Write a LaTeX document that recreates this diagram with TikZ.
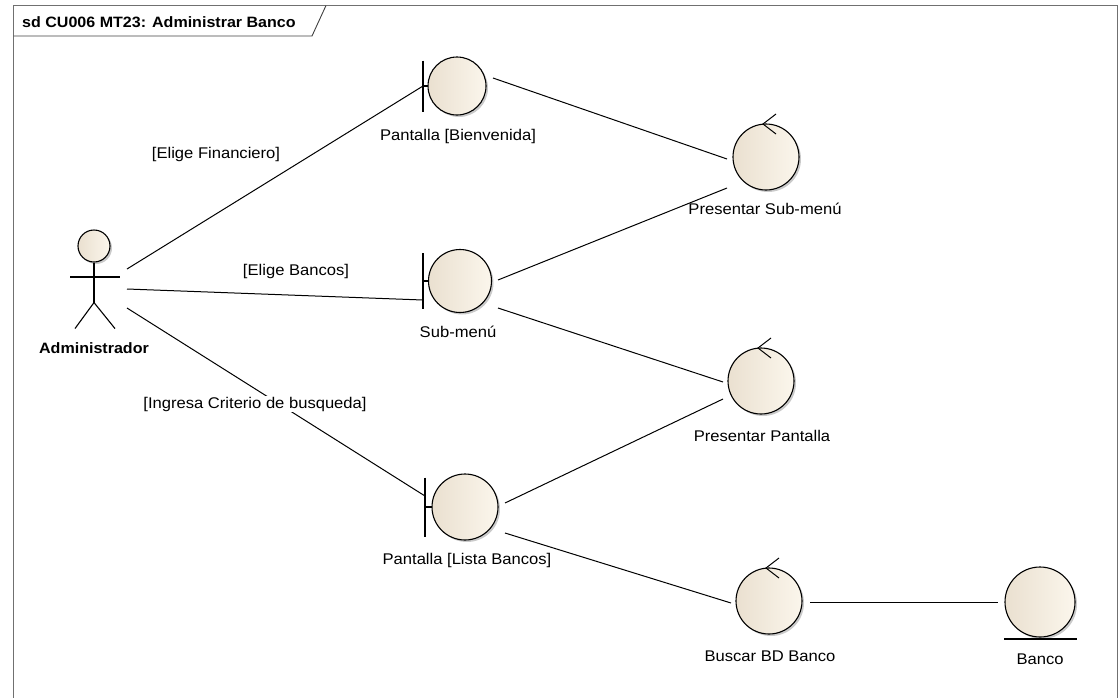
\documentclass[tikz,border=0pt]{standalone}
\usepackage{fontspec}
\setmainfont{Liberation Sans}[FakeStretch=1.07]
\usetikzlibrary{calc,shadows}
\definecolor{beigeL}{HTML}{EAE0D0}
\definecolor{beigeR}{HTML}{FBF6EC}
\definecolor{framegray}{HTML}{707070}
\begin{document}
\begin{tikzpicture}[x=1pt,y=-1pt,font=\fontsize{15.5}{18}\selectfont,
  elem/.style={circle,draw=black,line width=1.1pt,left color=beigeL,right color=beigeR,inner sep=0pt,
    drop shadow={shadow xshift=2pt,shadow yshift=-2pt,fill=black!35,opacity=0.6}},
  conn/.style={draw=black,line width=1pt},
  stick/.style={draw=black,line width=1.1pt},
  lbl/.style={anchor=base,inner sep=0pt},
  elbl/.style={anchor=base,inner sep=1pt,fill=white}]
\useasboundingbox (0,0) rectangle (1119,697);
% frame
\draw[framegray,line width=1.6pt] (13.5,705) -- (13.5,5.5) -- (1117.5,5.5) -- (1117.5,705);
\draw[black!75,line width=0.9pt] (13.5,36) -- (312,36) -- (326,5.5);
\node[anchor=base west,inner sep=0pt,font=\fontsize{15}{18}\selectfont\bfseries] (title) at (22,27) {sd CU006 MT23: Administrar Banco};
% elements
\node[elem,minimum size=58pt] (bien) at (457,86) {};
\node[elem,minimum size=63pt] (sub) at (460,281) {};
\node[elem,minimum size=66pt] (lista) at (465,507) {};
\node[elem,minimum size=66pt] (pressub) at (766,157) {};
\node[elem,minimum size=66pt] (prespant) at (761,381) {};
\node[elem,minimum size=66pt] (buscar) at (769,601) {};
\node[elem,minimum size=70pt] (banco) at (1040,602) {};
\node[elem,minimum size=32pt] (admin) at (94,246) {};
% actor
\draw[stick] (admin.south) -- ++(0,40) coordinate (hip);
\draw[stick] ($(admin)+(-24,31)$) -- ($(admin)+(26,31)$);
\draw[stick] (hip) -- ++(-19,26);
\draw[stick] (hip) -- ++(21,26);
% boundary bars
\draw[stick] ($(bien)+(-34,-25.5)$) -- ($(bien)+(-34,25.5)$);
\draw[stick] ($(bien)+(-34,0)$) coordinate (bien-w) -- ($(bien)+(-29,0)$);
\draw[stick] ($(sub)+(-37,-28)$) -- ($(sub)+(-37,28)$);
\draw[stick] ($(sub)+(-37,0)$) -- ($(sub)+(-31.5,0)$);
\draw[stick] ($(lista)+(-40,-29.5)$) -- ($(lista)+(-40,29.5)$);
\draw[stick] ($(lista)+(-40,0)$) -- ($(lista)+(-33,0)$);
% entity underline
\draw[stick] ($(banco)+(-36,37)$) -- ($(banco)+(37,37)$);
% control arrows
\foreach \c in {pressub,prespant,buscar}{
  \draw[conn] ($(\c)+(10,-43)$) -- ($(\c)+(-3,-33)$) -- ($(\c)+(10,-23)$);
}
% ports
\coordinate (a1) at ($(admin)+(33,23)$);
\coordinate (a2) at ($(admin)+(33,43)$);
\coordinate (a3) at ($(admin)+(33,62)$);
\coordinate (sub-w) at ($(sub)+(-37,19)$);
\coordinate (lista-w) at ($(lista)+(-40,-11)$);
% connectors
\draw[conn] (a1) -- (bien-w);
\draw[conn] (a2) -- (sub-w);
\draw[conn] (a3) -- (lista-w);
\draw[conn] ($(bien)+(36,-8)$) -- ($(pressub)+(-39,2)$);
\draw[conn] ($(sub)+(38,-1)$) -- ($(pressub)+(-39,31)$);
\draw[conn] ($(sub)+(38,27)$) -- ($(prespant)+(-38,1)$);
\draw[conn] ($(lista)+(40,-4)$) -- ($(prespant)+(-38,18)$);
\draw[conn] ($(lista)+(40,26)$) -- ($(buscar)+(-38,2)$);
\draw[conn] ($(buscar)+(41,1)$) -- ($(banco)+(-42,0)$);
% labels
\node[lbl,font=\fontsize{15}{18}\selectfont\bfseries] (l-admin) at (94,353) {Administrador};
\node[lbl] (l-bien) at (458,140) {Pantalla [Bienvenida]};
\node[lbl] (l-sub) at (458,337) {Sub-menú};
\node[lbl] (l-lista) at (467,564) {Pantalla [Lista Bancos]};
\node[lbl] (l-pressub) at (765,214) {Presentar Sub-menú};
\node[lbl] (l-prespant) at (762,441) {Presentar Pantalla};
\node[lbl] (l-buscar) at (770,661) {Buscar BD Banco};
\node[lbl] (l-banco) at (1040,664) {Banco};
\node[elbl] (e1) at (216,158) {[Elige Financiero]};
\node[elbl] (e2) at (296,275) {[Elige Bancos]};
\node[elbl] (e3) at (255,408) {[Ingresa Criterio de busqueda]};
\end{tikzpicture}
\end{document}
